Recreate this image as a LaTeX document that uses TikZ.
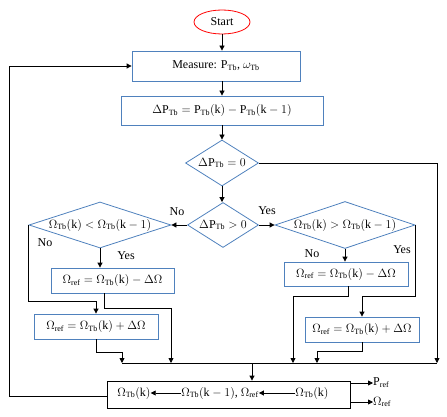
\documentclass[tikz,border=0pt]{standalone}
\usepackage{fontspec}
\setmainfont{Liberation Serif}
\usetikzlibrary{shapes.geometric,arrows.meta}
\definecolor{boxblue}{RGB}{79,129,189}
\newcommand{\PTb}{\mathrm{P}_{\mathrm{Tb}}}
\newcommand{\OTb}{\Omega_{\mathrm{Tb}}}
\newcommand{\Oref}{\Omega_{\mathrm{ref}}}
\newcommand{\dtext}[1]{\makebox[0pt]{#1}}
\begin{document}
\begin{tikzpicture}[x=1pt, y=-1pt, font=\fontsize{12}{14}\selectfont,
	box/.style={draw=boxblue, line width=0.8pt, inner sep=2pt},
	dec/.style={diamond, draw=boxblue, line width=0.8pt, inner sep=0pt},
	arr/.style={-{Triangle[length=5pt,width=5pt]}, line width=0.8pt},
	lbl/.style={inner sep=0pt}]
		\useasboundingbox (0,0) rectangle (447,417);
		\node[ellipse, draw=red, line width=0.8pt, minimum width=56pt, minimum height=24pt, inner sep=0pt] (start) at (222,22) {Start};
		\node[box, minimum width=168pt, minimum height=30pt] (meas) at (216,66) {Measure: $\PTb$, $\omega_{\mathrm{Tb}}$};
		\node[box, minimum width=202pt, minimum height=29pt] (delta) at (222,110.5) {$\Delta\PTb = \PTb(\mathrm{k}) - \PTb(\mathrm{k}-1)$};
		\node[dec, minimum width=73pt, minimum height=46pt] (d0) at (222,163) {\dtext{$\Delta\PTb = 0$}};
		\node[dec, minimum width=71pt, minimum height=45pt] (d1) at (223,225) {\dtext{$\Delta\PTb > 0$}};
		\node[dec, minimum width=142pt, minimum height=46pt] (ldec) at (100,225) {\dtext{$\OTb(\mathrm{k}) < \OTb(\mathrm{k}-1)$}};
		\node[dec, minimum width=140pt, minimum height=47pt] (rdec) at (345,225) {\dtext{$\OTb(\mathrm{k}) > \OTb(\mathrm{k}-1)$}};
		\node[box, minimum width=123pt, minimum height=25pt] (lminus) at (112.5,280.5) {$\Oref = \OTb(\mathrm{k}) - \Delta\Omega$};
		\node[box, minimum width=124pt, minimum height=25pt] (lplus) at (96,326.5) {$\Oref = \OTb(\mathrm{k}) + \Delta\Omega$};
		\node[box, minimum width=124pt, minimum height=24pt] (rminus) at (346,274) {$\Oref = \OTb(\mathrm{k}) - \Delta\Omega$};
		\node[box, minimum width=114pt, minimum height=25pt] (rplus) at (362,329.5) {$\Oref = \OTb(\mathrm{k}) + \Delta\Omega$};
		\node[draw=black, line width=0.8pt, minimum width=243pt, minimum height=27pt] (upd) at (228.5,394.5) {};
		\node[lbl] (w1) at (134,393) {$\OTb(\mathrm{k})$};
		\node[lbl] (w2) at (220,393) {$\OTb(\mathrm{k}-1)$, $\Oref$};
		\node[lbl] (w3) at (312,393) {$\OTb(\mathrm{k})$};
		\node[lbl, anchor=west] (pref) at (373,383) {$\mathrm{P}_{\mathrm{ref}}$};
		\node[lbl, anchor=west] (oref) at (373,402) {$\Oref$};
		\node[lbl] (no1) at (177,212) {No};
		\node[lbl] (yes1) at (267,211) {Yes};
		\node[lbl] (no2) at (45,243) {No};
		\node[lbl] (yes2) at (126,256) {Yes};
		\node[lbl] (no3) at (312,254) {No};
		\node[lbl] (yes3) at (402,250) {Yes};
		\coordinate (b1) at (122,363);
		\coordinate (b2) at (171,363);
		\coordinate (b0) at (252,363);
		\coordinate (b3) at (293,363);
		\coordinate (b4) at (317,363);
		\coordinate (b5) at (437,363);
		\draw[arr] (start.south) -- (start.south |- meas.north);
		\draw[arr] (start |- meas.south) -- (start |- delta.north);
		\draw[arr] (d0 |- delta.south) -- (d0.north);
		\draw[arr] (d0.south) -- (d0.south |- d1.north);
		\draw[arr] (d1.west) -- (ldec.east);
		\draw[arr] (d1.east) -- (rdec.west);
		\draw[arr] (ldec.south) -- (ldec.south |- lminus.north);
		\draw[arr] (ldec.west) -- ++(0,76) -| (lplus.north);
		\draw[arr] ([xshift=-8pt]lminus.south) -- ++(0,15) -| (b2);
		\draw[arr] (lplus.south) -- ++(0,13) -| (b1);
		\draw[arr] (rdec.south) -- (rdec.south |- rminus.north);
		\draw[arr] (rdec.east) -- ++(0,71) -| (rplus.north);
		\draw[arr] ([xshift=2pt]rminus.south) -- ++(0,10) -| (b3);
		\draw[arr] (rplus.south) -- ++(0,9) -| (b4);
		\draw[arr] (d0.east) -| (b5);
		\draw[line width=0.8pt] (b1) -- (b5);
		\draw[arr] (b0) -- (b0 |- upd.north);
		\draw[arr] (w2) -- (w1);
		\draw[arr] (w3) -- (w2);
		\draw[arr] (upd.east |- pref) -- (pref.west);
		\draw[arr] (upd.east |- oref) -- (oref.west);
		\draw[arr] ([yshift=-1.5pt]upd.west) -- ++(-97,0) |- (meas.west);
\end{tikzpicture}
\end{document}
